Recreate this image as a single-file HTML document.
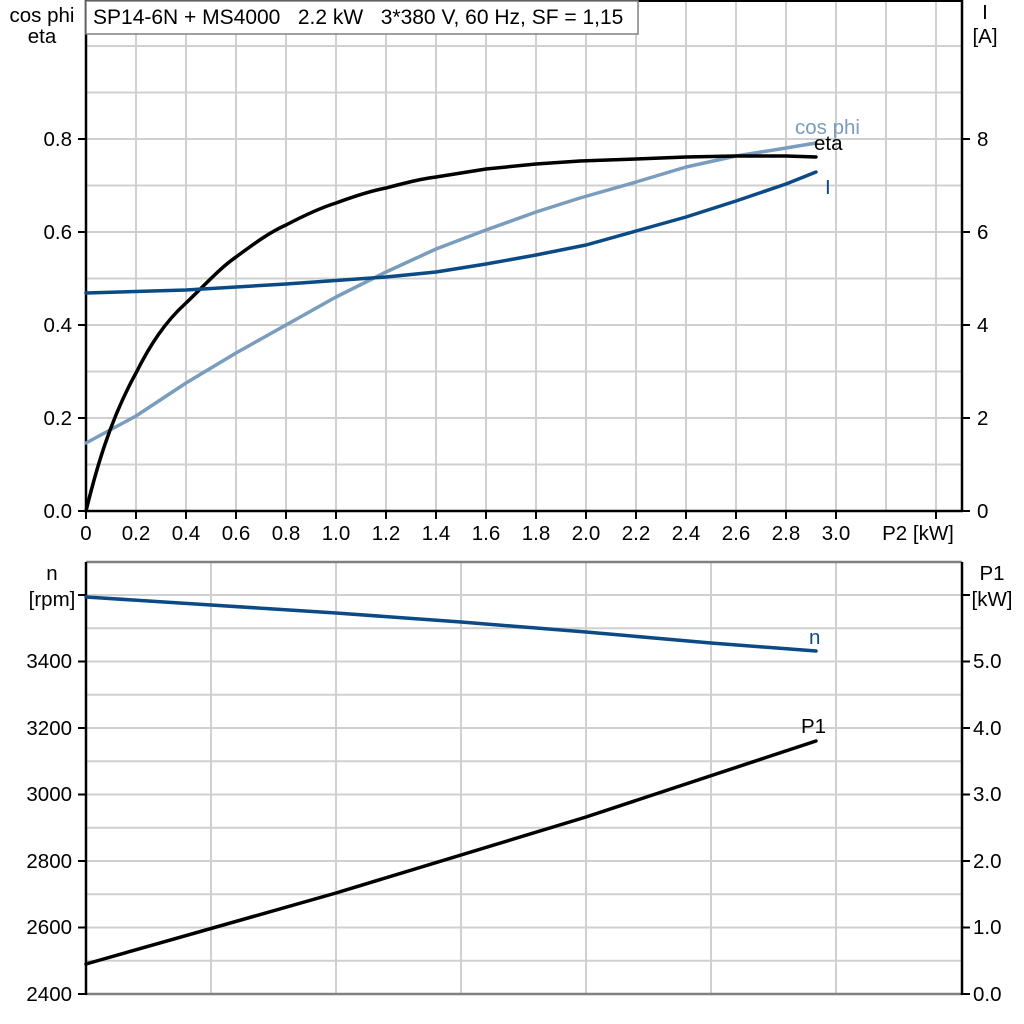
<!DOCTYPE html>
<html><head><meta charset="utf-8"><style>
html,body{margin:0;padding:0;background:#fff;}
svg{display:block;font-family:"Liberation Sans",Arial,sans-serif;}
</style></head><body>
<svg width="1024" height="1024" viewBox="0 0 1024 1024" xmlns="http://www.w3.org/2000/svg">
<rect width="1024" height="1024" fill="#fff"/>
<g stroke="#d0d0d0" stroke-width="2" fill="none">
<path d="M136 0V511M186 0V511M236 0V511M286 0V511M336 0V511M386 0V511M436 0V511M486 0V511M536 0V511M586 0V511M636 0V511M686 0V511M736 0V511M786 0V511M836 0V511M886 0V511M936 0V511"/>
<path d="M86 464.5H962M86 418H962M86 371.5H962M86 325H962M86 278.5H962M86 232H962M86 185.5H962M86 139H962M86 92.5H962M86 46H962"/>
<path d="M211 562V994M336 562V994M461 562V994M586 562V994M711 562V994M836 562V994"/>
<path d="M86 960.8H962M86 927.5H962M86 894.3H962M86 861H962M86 827.8H962M86 794.5H962M86 761.3H962M86 728H962M86 694.8H962M86 661.5H962M86 628.3H962M86 595H962"/>
</g>
<path d="M86 1H962" stroke="#000" stroke-width="2"/>
<path d="M86 0V512M962 0V512M85 511H963" stroke="#000" stroke-width="2.5" fill="none"/>
<path d="M86 562H962M86 994H962" stroke="#808080" stroke-width="2.5"/>
<path d="M86 562V995M962 562V995" stroke="#000" stroke-width="2.5"/>
<g stroke="#000" stroke-width="2">
<path d="M78 511H86M78 418H86M78 325H86M78 232H86M78 139H86"/>
<path d="M962 511H970M962 418H970M962 325H970M962 232H970M962 139H970"/>
<path d="M86 511V519M136 511V519M186 511V519M236 511V519M286 511V519M336 511V519M386 511V519M436 511V519M486 511V519M536 511V519M586 511V519M636 511V519M686 511V519M736 511V519M786 511V519M836 511V519M936 511V519"/>
<path d="M78 994H86M78 927.5H86M78 861H86M78 794.5H86M78 728H86M78 661.5H86M78 595H86"/>
<path d="M962 994H970M962 927.5H970M962 861H970M962 794.5H970M962 728H970M962 661.5H970M962 595H970"/>
</g>
<rect x="86" y="1" width="552" height="33" fill="#fff" stroke="#808080" stroke-width="1.5"/>
<text x="93" y="24" font-size="21">SP14-6N + MS4000&#160;&#160; 2.2 kW&#160;&#160; 3*380 V, 60 Hz, SF = 1,15</text>
<g font-size="20.5" fill="#000">
<text x="42" y="22" text-anchor="middle">cos phi</text>
<text x="42" y="43" text-anchor="middle">eta</text>
<text x="985" y="19" text-anchor="middle">I</text>
<text x="985" y="43" text-anchor="middle">[A]</text>
<g text-anchor="end">
<text x="72" y="518">0.0</text><text x="72" y="425">0.2</text><text x="72" y="332">0.4</text><text x="72" y="239">0.6</text><text x="72" y="146">0.8</text>
</g>
<g text-anchor="start">
<text x="977" y="518">0</text><text x="977" y="425">2</text><text x="977" y="332">4</text><text x="977" y="239">6</text><text x="977" y="146">8</text>
</g>
<g text-anchor="middle">
<text x="86" y="540">0</text><text x="136" y="540">0.2</text><text x="186" y="540">0.4</text><text x="236" y="540">0.6</text><text x="286" y="540">0.8</text><text x="336" y="540">1.0</text><text x="386" y="540">1.2</text><text x="436" y="540">1.4</text><text x="486" y="540">1.6</text><text x="536" y="540">1.8</text><text x="586" y="540">2.0</text><text x="636" y="540">2.2</text><text x="686" y="540">2.4</text><text x="736" y="540">2.6</text><text x="786" y="540">2.8</text><text x="836" y="540">3.0</text><text x="918" y="540">P2 [kW]</text>
</g>
<text x="52" y="580" text-anchor="middle">n</text>
<text x="52" y="606" text-anchor="middle">[rpm]</text>
<text x="992" y="580" text-anchor="middle">P1</text>
<text x="992" y="606" text-anchor="middle">[kW]</text>
<g text-anchor="end">
<text x="72" y="1001">2400</text><text x="72" y="934">2600</text><text x="72" y="868">2800</text><text x="72" y="801">3000</text><text x="72" y="735">3200</text><text x="72" y="668">3400</text>
</g>
<g text-anchor="start">
<text x="973" y="1001">0.0</text><text x="973" y="934">1.0</text><text x="973" y="868">2.0</text><text x="973" y="801">3.0</text><text x="973" y="735">4.0</text><text x="973" y="668">5.0</text>
</g>
</g>
<g fill="none" stroke-width="3.5" stroke-linecap="round" stroke-linejoin="round">
<path stroke="#7a9cbd" d="M86 443L136 416L186 383L236 353L286 325L336 297L386 272L436 249L486 230L536 212L580 198L636 182L686 167L736 156L786 148L816 143"/>
<path stroke="#000" d="M86 511C96 470 110 420 136 373C150 345 165 322 186 303C205 285 220 268 236 257C255 243 270 232 286 225C305 215 320 208 336 203C355 196 370 191 386 188C405 183 420 179 436 177L486 169L536 164L580 161L636 159L686 157L736 156L786 156L816 157"/>
<path stroke="#0b4a85" d="M86 293L186 290L286 284L386 277L436 272L486 264L536 255L586 245L636 231L686 217L736 201L786 184L816 172"/>
<path stroke="#0b4a85" d="M86 597L211 605L336 613L461 622L586 632L711 643L816 651"/>
<path stroke="#000" d="M86 964L336 893L586 817L816 741"/>
</g>
<g font-size="20.5">
<text x="795" y="134" fill="#7a9cbd">cos phi</text>
<text x="814" y="150" fill="#000">eta</text>
<text x="825" y="194" fill="#0b4a85">I</text>
<text x="809" y="644" fill="#0b4a85">n</text>
<text x="801" y="733" fill="#000">P1</text>
</g>
</svg>
</body></html>
